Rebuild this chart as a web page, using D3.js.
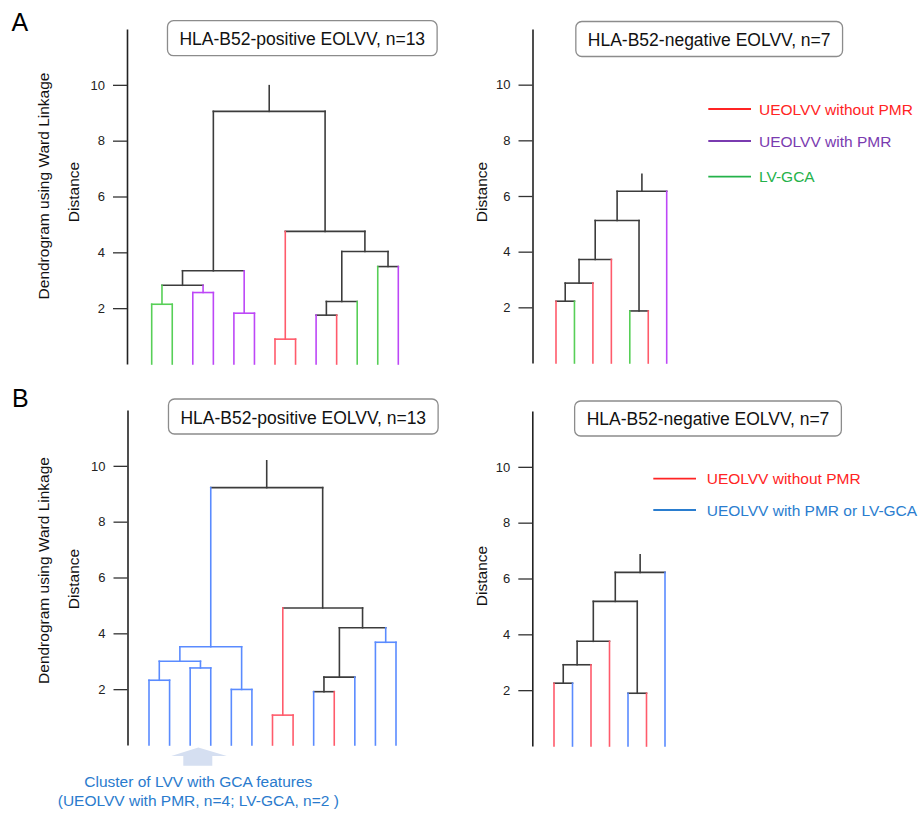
<!DOCTYPE html>
<html>
<head>
<meta charset="utf-8">
<script src="https://cdn.jsdelivr.net/npm/d3@7"></script>
<style>
  html, body { margin: 0; padding: 0; background: #fff; }
  svg { display: block; font-family: "Liberation Sans", Arial, sans-serif; }
</style>
</head>
<body>
<svg id="chart" width="922" height="813"></svg>
<script>
// ---------------- DATA ----------------
// class codes: R = UEOLVV without PMR, P = UEOLVV with PMR, G = LV-GCA, B = UEOLVV with PMR or LV-GCA
const tickValues = [2, 4, 6, 8, 10];

// Panel A, HLA-B52-positive (13 cases), leaf order left -> right
const posA_leaves = ["G","G","P","P","P","P","R","R","P","R","G","G","P"];
// merges: [child a, child b, distance]; node ids follow leaves (13, 14, ...)
const posA_merges = [
  [0,1,2.14],[2,3,2.56],[13,14,2.82],[4,5,1.82],[15,16,3.34],
  [6,7,0.89],[8,9,1.75],[19,10,2.24],[11,12,3.49],[20,21,4.03],
  [18,22,4.75],[17,23,9.05]
];
const posA_rootTop = 9.97;

// Panel A, HLA-B52-negative (7 cases)
const negA_leaves = ["R","G","R","R","G","R","P"];
const negA_merges = [[0,1,2.22],[7,2,2.87],[8,3,3.72],[4,5,1.87],[9,10,5.12],[11,6,6.17]];
const negA_rootTop = 6.78;

// Panel B, HLA-B52-positive
const posB_leaves = ["B","B","B","B","B","B","R","R","B","R","B","B","B"];
const posB_merges = [
  [0,1,2.32],[2,3,2.76],[13,14,3.0],[4,5,1.99],[15,16,3.52],
  [6,7,1.07],[8,9,1.91],[19,10,2.43],[11,12,3.68],[20,21,4.2],
  [18,22,4.91],[17,23,9.22]
];
const posB_rootTop = 10.18;

// Panel B, HLA-B52-negative
const negB_leaves = ["R","B","R","R","B","R","B"];
const negB_merges = [[0,1,2.25],[7,2,2.91],[8,3,3.75],[4,5,1.89],[9,10,5.18],[11,6,6.22]];
const negB_rootTop = 6.85;

const titlePos = "HLA-B52-positive EOLVV, n=13";
const titleNeg = "HLA-B52-negative EOLVV, n=7";
const legendA = [["R","UEOLVV without PMR"],["P","UEOLVV with PMR"],["G","LV-GCA"]];
const legendB = [["R","UEOLVV without PMR"],["B","UEOLVV with PMR or LV-GCA"]];
const annotationLines = ["Cluster of LVV with GCA features","(UEOLVV with PMR, n=4; LV-GCA, n=2 )"];

// ---------------- STYLE ----------------
const lineColor = { R: "#ff5b6b", P: "#bd47f7", G: "#57cf57", B: "#5a8bff", mixed: "#3c3c3c" };
const legendColor = { R: "#ff2424", P: "#7a3bb0", G: "#24b24a", B: "#2a7dcf" };

const svg = d3.select("#chart");

function drawPanel(cfg) {
  const g = svg.append("g");
  const y = d3.scaleLinear().domain([0, 12]).range([cfg.yBottom, cfg.yTop]);
  const n = cfg.leaves.length;
  const x = d3.scaleLinear().domain([0, n - 1]).range([cfg.leafX0, cfg.leafX1]);

  // axis
  const ax = g.append("g")
    .attr("transform", `translate(${cfg.axisX},0)`)
    .call(d3.axisLeft(y).tickValues(tickValues).tickSize(14).tickSizeOuter(0).tickPadding(8).tickFormat(d3.format("d")));
  ax.select(".domain").attr("stroke", "#222").attr("stroke-width", 1.6);
  ax.selectAll(".tick line").attr("stroke", "#333").attr("stroke-width", 1.3);
  ax.selectAll(".tick text").attr("font-size", 13).attr("fill", "#222")
    .attr("font-family", "Liberation Sans, Arial, sans-serif");

  // nodes
  const nx = [], nh = [], ncls = [];
  for (let i = 0; i < n; i++) { nx.push(x(i)); nh.push(0); ncls.push(cfg.leaves[i]); }
  const segs = [];
  cfg.merges.forEach(([a, b, h]) => {
    const id = nx.length;
    nx.push((nx[a] + nx[b]) / 2);
    nh.push(h);
    ncls.push(ncls[a] !== null && ncls[a] === ncls[b] ? ncls[a] : null);
    [a, b].forEach(c => segs.push({ x1: nx[c], y1: y(nh[c]), x2: nx[c], y2: y(h), cls: ncls[c] }));
    segs.push({ x1: nx[a], y1: y(h), x2: nx[b], y2: y(h), cls: ncls[id] });
  });
  const root = nx.length - 1;
  segs.push({ x1: nx[root], y1: y(nh[root]), x2: nx[root], y2: y(cfg.rootTop), cls: ncls[root] });

  segs.sort((s, t) => (s.cls === null ? 0 : 1) - (t.cls === null ? 0 : 1));
  g.append("g").selectAll("line").data(segs).join("line")
    .attr("x1", d => d.x1).attr("y1", d => d.y1)
    .attr("x2", d => d.x2).attr("y2", d => d.y2)
    .attr("stroke", d => d.cls === null ? lineColor.mixed : lineColor[d.cls])
    .attr("stroke-width", 1.6)
    .attr("stroke-linecap", "square");

  // title box
  const tg = g.append("g");
  const tt = tg.append("text").attr("x", cfg.titleX).attr("y", cfg.titleBaseline)
    .attr("text-anchor", "middle").attr("font-size", 17.5).attr("fill", "#111").text(cfg.title);
  const w = tt.node().getComputedTextLength();
  tg.insert("rect", "text")
    .attr("x", cfg.titleX - w / 2 - 12).attr("y", cfg.boxTop)
    .attr("width", w + 24).attr("height", 35)
    .attr("rx", 6).attr("ry", 6)
    .attr("fill", "#fff").attr("stroke", "#8c8c8c").attr("stroke-width", 1.3);

  // y labels
  cfg.yLabels.forEach(l => {
    g.append("text")
      .attr("transform", `translate(${l.x},${l.y}) rotate(-90)`)
      .attr("text-anchor", "middle").attr("font-size", 15.5).attr("fill", "#111")
      .text(l.text);
  });
}

function drawLegend(items, x0, x1, tx, ys) {
  const g = svg.append("g");
  items.forEach(([cls, label], i) => {
    g.append("line").attr("x1", x0).attr("x2", x1).attr("y1", ys[i]).attr("y2", ys[i])
      .attr("stroke", legendColor[cls]).attr("stroke-width", 1.8);
    g.append("text").attr("x", tx).attr("y", ys[i]).attr("dy", "0.36em")
      .attr("font-size", 15.5).attr("fill", legendColor[cls]).text(label);
  });
}

// ---------------- PANELS ----------------
drawPanel({ leaves: posA_leaves, merges: posA_merges, rootTop: posA_rootTop,
  axisX: 127, yTop: 29, yBottom: 364, leafX0: 151.7, leafX1: 398.3,
  title: titlePos, titleX: 302.3, titleBaseline: 45, boxTop: 20.7,
  yLabels: [{ x: 49, y: 186, text: "Dendrogram using Ward Linkage" }, { x: 79, y: 192, text: "Distance" }] });

drawPanel({ leaves: negA_leaves, merges: negA_merges, rootTop: negA_rootTop,
  axisX: 532.5, yTop: 29, yBottom: 363, leafX0: 556, leafX1: 666.7,
  title: titleNeg, titleX: 709.2, titleBaseline: 45.5, boxTop: 21.5,
  yLabels: [{ x: 487, y: 192, text: "Distance" }] });

drawPanel({ leaves: posB_leaves, merges: posB_merges, rootTop: posB_rootTop,
  axisX: 127.5, yTop: 410, yBottom: 745, leafX0: 149, leafX1: 396,
  title: titlePos, titleX: 303.3, titleBaseline: 423.5, boxTop: 399,
  yLabels: [{ x: 49, y: 570.5, text: "Dendrogram using Ward Linkage" }, { x: 79, y: 579, text: "Distance" }] });

drawPanel({ leaves: negB_leaves, merges: negB_merges, rootTop: negB_rootTop,
  axisX: 532.3, yTop: 411, yBottom: 746, leafX0: 554, leafX1: 665,
  title: titleNeg, titleX: 708, titleBaseline: 425, boxTop: 401,
  yLabels: [{ x: 487, y: 576, text: "Distance" }] });

drawLegend(legendA, 708.3, 751, 759, [109, 141, 176.7]);
drawLegend(legendB, 653.3, 696, 706.7, [478.7, 510]);

// panel letters
svg.append("text").attr("x", 11.5).attr("y", 31).attr("font-size", 25).attr("fill", "#000").text("A");
svg.append("text").attr("x", 12).attr("y", 406.5).attr("font-size", 25).attr("fill", "#000").text("B");

// annotation arrow + text
const ax0 = 198.3;
svg.append("path")
  .attr("d", d3.line()([[ax0, 747.5], [ax0 + 28.5, 756], [ax0 + 14, 756], [ax0 + 14, 765.7],
                        [ax0 - 15, 765.7], [ax0 - 15, 756], [ax0 - 27, 756]]) + "Z")
  .attr("fill", "#d5dff1");
annotationLines.forEach((t, i) => {
  svg.append("text").attr("x", ax0).attr("y", 787.3 + i * 18.5)
    .attr("text-anchor", "middle").attr("font-size", 15.5).attr("fill", "#2a7bcd").text(t);
});
</script>
</body>
</html>
